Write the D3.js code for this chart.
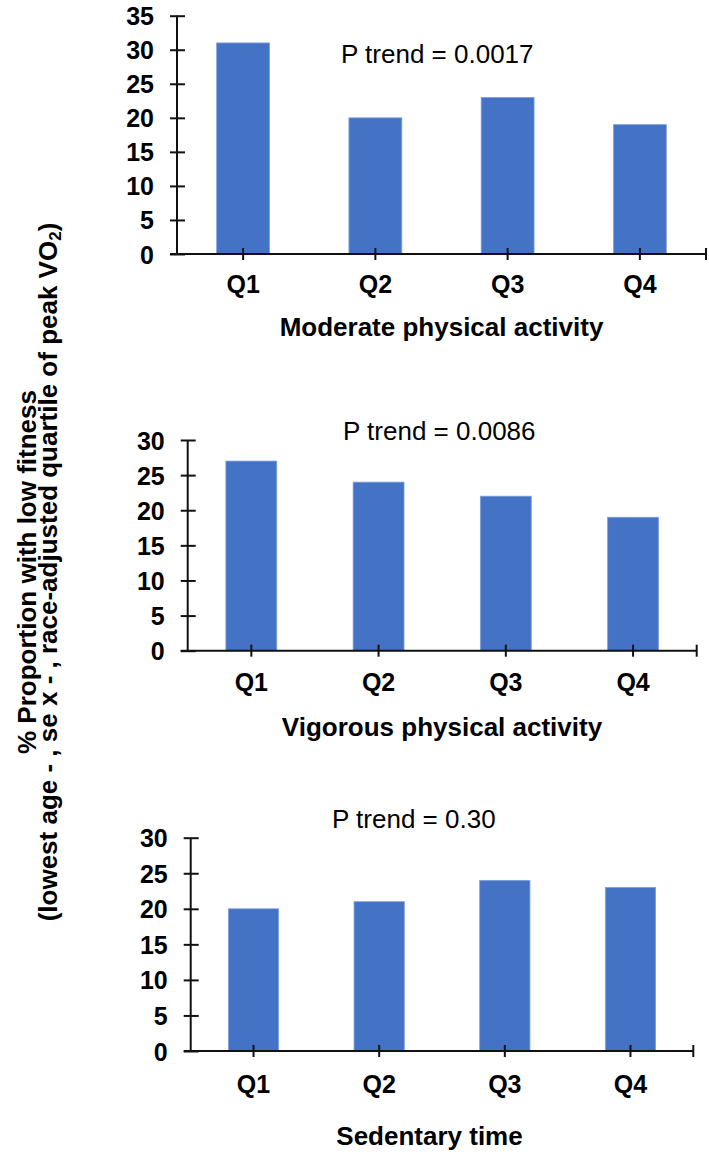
<!DOCTYPE html>
<html>
<head>
<meta charset="utf-8">
<script src="https://cdn.jsdelivr.net/npm/d3@7"></script>
<style>
  html, body { margin: 0; padding: 0; background: #fff; }
  svg { display: block; }
  text { font-family: "Liberation Sans", Arial, sans-serif; fill: #000; }
</style>
</head>
<body>
<svg id="chart" width="709" height="1155"></svg>
<script>
// ---- Data ----
const categories = ["Q1", "Q2", "Q3", "Q4"];
const moderateValues = [31, 20, 23, 19];
const vigorousValues = [27, 24, 22, 19];
const sedentaryValues = [20, 21, 24, 23];
const moderateTicks = [0, 5, 10, 15, 20, 25, 30, 35];
const vigorousTicks = [0, 5, 10, 15, 20, 25, 30];
const sedentaryTicks = [0, 5, 10, 15, 20, 25, 30];
const panelTitles = ["Moderate physical activity", "Vigorous physical activity", "Sedentary time"];
const pTrendLabels = ["P trend = 0.0017", "P trend = 0.0086", "P trend = 0.30"];
const yTitleLine1 = "% Proportion with low fitness";
const yTitleLine2a = "(lowest age - , se x - , race-adjusted quartile of peak VO";
const yTitleLine2sub = "2";
const yTitleLine2b = ")";

// ---- Layout (positions only) ----
const panels = [
  { values: moderateValues, ticks: moderateTicks, title: panelTitles[0], ptrend: pTrendLabels[0],
    x0: 177, x1: 706, yTop: 15.7, yBase: 254, px: 341, py: 63, titleX: 441.5, titleY: 336, qY: 293 },
  { values: vigorousValues, ticks: vigorousTicks, title: panelTitles[1], ptrend: pTrendLabels[1],
    x0: 187.7, x1: 696.7, yTop: 440, yBase: 650.7, px: 343, py: 440, titleX: 442, titleY: 736, qY: 691 },
  { values: sedentaryValues, ticks: sedentaryTicks, title: panelTitles[2], ptrend: pTrendLabels[2],
    x0: 190.7, x1: 693.3, yTop: 837.7, yBase: 1051, px: 332, py: 828, titleX: 429.5, titleY: 1145, qY: 1093 }
];

const svg = d3.select("#chart");
const barColor = "#4472C4";
const axisColor = "#111";
const bold = "bold";

panels.forEach(p => {
  const ymax = d3.max(p.ticks);
  const x = d3.scaleBand().domain(categories).range([p.x0, p.x1]).paddingInner(0).paddingOuter(0);
  const y = d3.scaleLinear().domain([0, ymax]).range([p.yBase, p.yTop]);
  const barW = x.bandwidth() * 0.4;

  const g = svg.append("g");

  // bars
  g.selectAll("rect.bar").data(p.values).join("rect")
    .attr("class", "bar")
    .attr("x", (d, i) => x(categories[i]) + x.bandwidth() / 2 - barW / 2)
    .attr("y", d => y(d))
    .attr("width", barW)
    .attr("height", d => y(0) - y(d))
    .attr("fill", barColor)
    .attr("stroke", "#7fa0dc")
    .attr("stroke-width", 0.8);

  // y axis
  const yAxis = d3.axisLeft(y).tickValues(p.ticks).tickSize(0).tickPadding(23).tickFormat(d3.format("d"));
  const ya = g.append("g").attr("transform", `translate(${p.x0},0)`).call(yAxis);
  ya.select(".domain").remove();
  ya.append("line").attr("x1", 0).attr("x2", 0).attr("y1", y(0)).attr("y2", y(ymax))
    .attr("stroke", axisColor).attr("stroke-width", 2);
  ya.selectAll(".tick").append("line").attr("x1", -7).attr("x2", 8)
    .attr("stroke", axisColor).attr("stroke-width", 2);
  ya.selectAll(".tick text")
    .style("font-family", "'Liberation Sans', Arial, sans-serif")
    .style("font-size", "25px").style("font-weight", bold).attr("fill", "#000")
    .attr("dy", "0.36em");

  // x axis
  const xAxis = d3.axisBottom(x).tickSize(0).tickPadding(0);
  const xa = g.append("g").attr("transform", `translate(0,${p.yBase})`).call(xAxis);
  xa.select(".domain").remove();
  xa.append("line").attr("x1", p.x0 - 7).attr("x2", p.x1).attr("y1", 0).attr("y2", 0)
    .attr("stroke", axisColor).attr("stroke-width", 2);
  xa.selectAll(".tick").append("line").attr("y1", -6).attr("y2", 6)
    .attr("stroke", axisColor).attr("stroke-width", 2);
  xa.append("line").attr("x1", x.range()[1]).attr("x2", x.range()[1]).attr("y1", -6).attr("y2", 6)
    .attr("stroke", axisColor).attr("stroke-width", 2);
  xa.selectAll(".tick text")
    .style("font-family", "'Liberation Sans', Arial, sans-serif")
    .style("font-size", "25px").style("font-weight", bold).attr("fill", "#000")
    .attr("y", p.qY - p.yBase).attr("dy", 0);

  // panel title
  g.append("text").attr("x", p.titleX).attr("y", p.titleY)
    .attr("text-anchor", "middle").style("font-size", "26px").style("font-weight", bold)
    .text(p.title);

  // P trend
  g.append("text").attr("x", p.px).attr("y", p.py)
    .style("font-size", "26px")
    .text(p.ptrend);
});

// Y axis title (two lines, rotated)
const yt = svg.append("g").attr("transform", "translate(0,572) rotate(-90)");
yt.append("text").attr("x", 0).attr("y", 36).attr("text-anchor", "middle")
  .style("font-size", "26px").style("font-weight", bold).text(yTitleLine1);
const l2 = yt.append("text").attr("x", 0).attr("y", 57).attr("text-anchor", "middle")
  .style("font-size", "26px").style("font-weight", bold);
l2.append("tspan").text(yTitleLine2a);
l2.append("tspan").attr("dy", 4).style("font-size", "17px").text(yTitleLine2sub);
l2.append("tspan").attr("dy", -4).text(yTitleLine2b);
</script>
</body>
</html>
